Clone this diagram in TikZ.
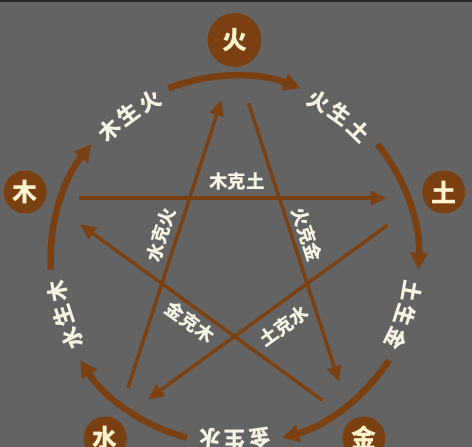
\documentclass[tikz,border=0pt]{standalone}
\usepackage{fontspec}
\newfontfamily\cjk{Noto Sans CJK SC}
\usetikzlibrary{arrows.meta,calc}
\definecolor{bg}{HTML}{636363}
\definecolor{brn}{HTML}{7A4011}
\definecolor{crm}{HTML}{FFF4CF}
\definecolor{wht}{HTML}{F8F4E4}
\begin{document}
\begin{tikzpicture}[x=1pt,y=1pt,
  elem/.style={circle,fill=brn,inner sep=0pt,text=crm,font=\cjk\bfseries\fontsize{25}{25}\selectfont},
  clab/.style={inner sep=0pt,text=wht,font=\cjk\bfseries\fontsize{21.5}{21.5}\selectfont},
  slab/.style={inner sep=0pt,text=wht,font=\cjk\bfseries\fontsize{18.5}{18.5}\selectfont},
  sheng/.style={draw=brn,line width=6.5pt,-{Triangle[length=17pt,width=17pt]}},
  ke/.style={draw=brn,line width=3.5pt,-{Triangle[length=16pt,width=14pt]}},
]
\fill[bg] (0,0) rectangle (472,447);
\fill[black!85] (0,444.5) rectangle (472,447);
\useasboundingbox (0,0) rectangle (472,447);
\coordinate (C) at (234.5,187);
% element discs
\node[elem,minimum size=54pt] (fire)  at ($(C)+(90:220)$) {火};
\node[elem,minimum size=43pt] (earth) at ($(C)+(18:220)$) {土};
\node[elem,minimum size=43pt] (metal) at ($(C)+(-54:220)$) {金};
\node[elem,minimum size=43pt] (water) at ($(C)+(-126:220)$) {水};
\node[elem,minimum size=43pt] (wood)  at ($(C)+(162:220)$) {木};
% generating cycle arcs
\foreach \c/\n in {90/a,18/b,-54/c,-126/d,162/e}{
  \pgfmathsetmacro\s{\c+21}
  \pgfmathsetmacro\e{\c-21}
  \coordinate (arc\n) at ($(C)+(\s:184)$);
  \draw[sheng] (arc\n) arc[start angle=\s,end angle=\e,radius=184];
}
% generating labels along circle
\foreach \t/\a/\b/\cc/\n in {126/木/生/火/a,54/火/生/土/b,-18/土/生/金/c,-90/金/生/水/d,-162/水/生/木/e}{
  \pgfmathsetmacro\p{\t+8}
  \pgfmathsetmacro\q{\t-8}
  \node[clab,rotate=\p-90] (g\n1) at ($(C)+(\p:180)$) {\a};
  \node[clab,rotate=\t-90] (g\n2) at ($(C)+(\t:180)$) {\b};
  \node[clab,rotate=\q-90] (g\n3) at ($(C)+(\q:180)$) {\cc};
}
% star vertices
\coordinate (V1) at ($(C)+(90:200)$);
\coordinate (V2) at ($(C)+(18:200)$);
\coordinate (V3) at ($(C)+(-54:200)$);
\coordinate (V4) at ($(C)+(-126:200)$);
\coordinate (V5) at ($(C)+(162:200)$);
% controlling arrows
\draw[ke] ($(V4)!0.094!(V1)$) -- ($(V4)!0.89!(V1)$);
\draw[ke] ($(V1)!0.12!(V3)$) -- ($(V1)!0.89!(V3)$);
\draw[ke] ($(V5)!0.092!(V2)$) -- ($(V5)!0.9!(V2)$);
\draw[ke] ($(V2)!0.12!(V4)$) -- ($(V2)!0.9!(V4)$);
\draw[ke] ($(V3)!0.097!(V5)$) -- ($(V3)!0.884!(V5)$);
% controlling labels
\node[slab] (k1) at (237,266) {木克土};
\node[slab,rotate=72] (k2) at (161,212) {水克火};
\node[slab,rotate=-72] (k3) at (307,212) {火克金};
\node[slab,rotate=-36] (k4) at (190,125) {金克木};
\node[slab,rotate=36] (k5) at (284,121) {土克水};
\end{tikzpicture}
\end{document}
